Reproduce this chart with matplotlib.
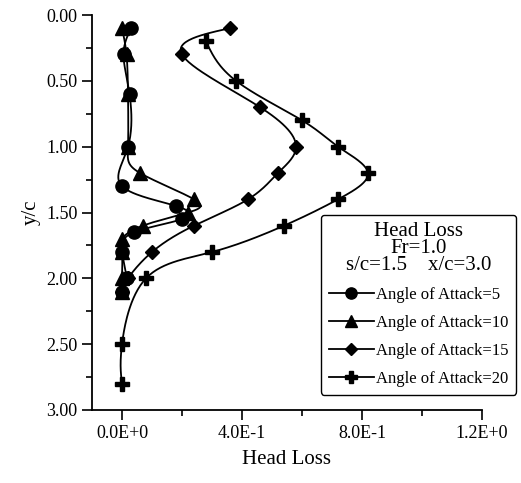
import numpy as np
import matplotlib
matplotlib.use("Agg")
import matplotlib.pyplot as plt
from matplotlib.lines import Line2D
from matplotlib.ticker import MultipleLocator, FixedLocator, FixedFormatter, FormatStrFormatter

plt.rcParams["font.family"] = ["Liberation Serif", "DejaVu Serif"]

# head loss profiles across the wake, one per angle of attack
y_a5 = [0.10, 0.30, 0.60, 1.00, 1.30, 1.45, 1.55, 1.65, 1.80, 2.00, 2.10]
hl_a5 = [0.03, 0.005, 0.025, 0.02, 0.0, 0.18, 0.20, 0.04, 0.0, 0.015, 0.0]

y_a10 = [0.10, 0.30, 0.60, 1.00, 1.20, 1.40, 1.50, 1.60, 1.70, 1.80, 2.00, 2.10]
hl_a10 = [0.0, 0.015, 0.02, 0.02, 0.06, 0.24, 0.22, 0.07, 0.0, 0.0, 0.0, 0.0]

y_a15 = [0.10, 0.30, 0.70, 1.00, 1.20, 1.40, 1.60, 1.80, 2.00, 2.10]
hl_a15 = [0.36, 0.20, 0.46, 0.58, 0.52, 0.42, 0.24, 0.10, 0.02, 0.0]

y_a20 = [0.20, 0.50, 0.80, 1.00, 1.20, 1.40, 1.60, 1.80, 2.00, 2.50, 2.80]
hl_a20 = [0.28, 0.38, 0.60, 0.72, 0.82, 0.72, 0.54, 0.30, 0.08, 0.0, 0.0]

labels = ["Angle of Attack=5", "Angle of Attack=10",
          "Angle of Attack=15", "Angle of Attack=20"]
x_ticks = [0.0, 0.4, 0.8, 1.2]
x_ticklabels = ["0.0E+0", "4.0E-1", "8.0E-1", "1.2E+0"]


def spline(xs, ys, n=30):
    """parametric natural cubic spline through the points, uniform knot spacing"""
    pts = [np.asarray(xs, float), np.asarray(ys, float)]
    m = len(pts[0])
    t = np.arange(m, dtype=float)
    h = np.diff(t)

    def second_deriv(f):
        A = np.zeros((m, m)); b = np.zeros(m)
        A[0, 0] = A[-1, -1] = 1.0
        for i in range(1, m - 1):
            A[i, i - 1] = h[i - 1]; A[i, i] = 2 * (h[i - 1] + h[i]); A[i, i + 1] = h[i]
            b[i] = 6 * ((f[i + 1] - f[i]) / h[i] - (f[i] - f[i - 1]) / h[i - 1])
        return np.linalg.solve(A, b)

    out = []
    for f in pts:
        M = second_deriv(f)
        seg = []
        for i in range(m - 1):
            s = np.linspace(t[i], t[i + 1], n, endpoint=(i == m - 2))
            a, b_ = t[i + 1] - s, s - t[i]
            seg.append(M[i] * a ** 3 / (6 * h[i]) + M[i + 1] * b_ ** 3 / (6 * h[i])
                       + (f[i] / h[i] - M[i] * h[i] / 6) * a
                       + (f[i + 1] / h[i] - M[i + 1] * h[i] / 6) * b_)
        out.append(np.concatenate(seg))
    return out


fig = plt.figure(figsize=(5.21, 4.83), dpi=100)
ax = fig.add_axes([92 / 521, 1 - 410 / 483, 390 / 521, 395 / 483])

series = [(hl_a5, y_a5, "o", 9.5), (hl_a10, y_a10, "^", 9.5),
          (hl_a15, y_a15, "D", 7.5), (hl_a20, y_a20, "P", 9.5)]
handles = []
for (xs, ys, mk, ms), lab in zip(series, labels):
    sx, sy = spline(xs, ys)
    ax.plot(sx, sy, color="black", lw=1.3, zorder=2)
    ax.plot(xs, ys, ls="none", marker=mk, ms=ms, color="black", mec="black", zorder=3)
    handles.append(Line2D([], [], color="black", lw=1.3, marker=mk, ms=ms * 0.85))

ax.set_xlim(-0.1, 1.2)
ax.set_ylim(3.0, 0.0)
ax.xaxis.set_major_locator(FixedLocator(x_ticks))
ax.xaxis.set_major_formatter(FixedFormatter(x_ticklabels))
ax.xaxis.set_minor_locator(FixedLocator([0.2, 0.6, 1.0]))
ax.yaxis.set_major_locator(MultipleLocator(0.5))
ax.yaxis.set_minor_locator(MultipleLocator(0.25))
ax.yaxis.set_major_formatter(FormatStrFormatter("%.2f"))
ax.tick_params(which="major", direction="out", length=7, width=1.2, labelsize=13, colors="black")
ax.tick_params(which="minor", direction="out", length=4, width=1.2)
for side in ("top", "right"):
    ax.spines[side].set_visible(False)
for side in ("left", "bottom"):
    ax.spines[side].set_linewidth(1.3)

ax.set_xlabel("Head Loss", fontsize=15, labelpad=6)
ax.set_ylabel("y/c", fontsize=15, labelpad=4)

leg = fig.legend(handles, labels, loc="upper left", bbox_to_anchor=(321 / 521, 1 - 215 / 483),
                 title="Head Loss\nFr=1.0\ns/c=1.5    x/c=3.0", title_fontsize=15,
                 fontsize=12, frameon=True, fancybox=True, edgecolor="black",
                 framealpha=1, handlelength=2.75, handletextpad=0.12, labelspacing=0.72,
                 borderpad=0.45, borderaxespad=0)
leg.get_title().set_multialignment("center")
leg.get_title().set_linespacing(0.85)
leg.get_frame().set_linewidth(1.0)

fig.savefig("out.png", dpi=100)
